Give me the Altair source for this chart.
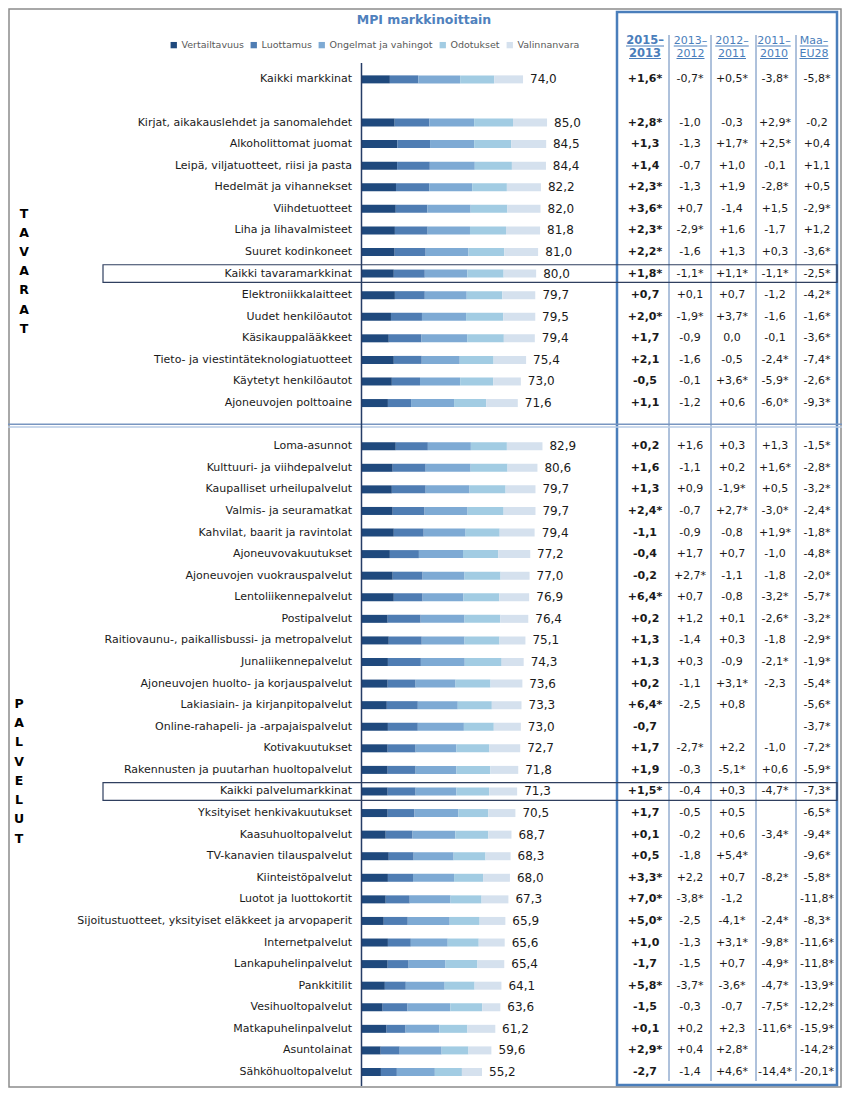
import altair as alt
import pandas as pd

# ---------------- data ----------------
components = ["Vertailtavuus", "Luottamus", "Ongelmat ja vahingot", "Odotukset", "Valinnanvara"]
colors = ["#1f497d", "#4f7db3", "#7eaad4", "#a2cce3", "#d5e1ee"]

top_label = ["Kaikki markkinat"]
goods = [
    "Kirjat, aikakauslehdet ja sanomalehdet", "Alkoholittomat juomat", "Leipä, viljatuotteet, riisi ja pasta",
    "Hedelmät ja vihannekset", "Viihdetuotteet", "Liha ja lihavalmisteet", "Suuret kodinkoneet",
    "Kaikki tavaramarkkinat", "Elektroniikkalaitteet", "Uudet henkilöautot", "Käsikauppalääkkeet",
    "Tieto- ja viestintäteknologiatuotteet", "Käytetyt henkilöautot", "Ajoneuvojen polttoaine",
]
services = [
    "Loma-asunnot", "Kulttuuri- ja viihdepalvelut", "Kaupalliset urheilupalvelut", "Valmis- ja seuramatkat",
    "Kahvilat, baarit ja ravintolat", "Ajoneuvovakuutukset", "Ajoneuvojen vuokrauspalvelut", "Lentoliikennepalvelut",
    "Postipalvelut", "Raitiovaunu-, paikallisbussi- ja metropalvelut", "Junaliikennepalvelut",
    "Ajoneuvojen huolto- ja korjauspalvelut", "Lakiasiain- ja kirjanpitopalvelut", "Online-rahapeli- ja -arpajaispalvelut",
    "Kotivakuutukset", "Rakennusten ja puutarhan huoltopalvelut", "Kaikki palvelumarkkinat",
    "Yksityiset henkivakuutukset", "Kaasuhuoltopalvelut", "TV-kanavien tilauspalvelut", "Kiinteistöpalvelut",
    "Luotot ja luottokortit", "Sijoitustuotteet, yksityiset eläkkeet ja arvopaperit", "Internetpalvelut",
    "Lankapuhelinpalvelut", "Pankkitilit", "Vesihuoltopalvelut", "Matkapuhelinpalvelut", "Asuntolainat",
    "Sähköhuoltopalvelut",
]
boxed = ["Kaikki tavaramarkkinat", "Kaikki palvelumarkkinat"]

totals = [74.0,
          85.0, 84.5, 84.4, 82.2, 82.0, 81.8, 81.0, 80.0, 79.7, 79.5, 79.4, 75.4, 73.0, 71.6,
          82.9, 80.6, 79.7, 79.7, 79.4, 77.2, 77.0, 76.9, 76.4, 75.1, 74.3, 73.6, 73.3, 73.0, 72.7,
          71.8, 71.3, 70.5, 68.7, 68.3, 68.0, 67.3, 65.9, 65.6, 65.4, 64.1, 63.6, 61.2, 59.6, 55.2]

vert = [13.0,
        15.2, 16.4, 16.3, 15.8, 15.7, 15.3, 15.2, 14.8, 15.3, 13.5, 12.5, 14.8, 13.9, 12.1,
        15.7, 14.3, 13.9, 14.3, 14.8, 13.0, 14.3, 14.8, 12.0, 12.5, 12.1, 12.0, 11.6, 12.1, 12.0,
        12.0, 12.0, 12.0, 11.1, 12.5, 12.1, 11.1, 10.2, 12.1, 12.0, 10.7, 9.7, 11.5, 8.8, 8.9]
luot = [13.0,
        15.9, 15.0, 15.0, 15.2, 14.5, 15.0, 14.2, 14.2, 13.7, 14.2, 15.0, 12.8, 12.9, 10.6,
        14.7, 15.1, 15.5, 14.6, 13.7, 13.3, 13.7, 13.2, 15.1, 15.1, 15.1, 12.8, 14.2, 13.7, 12.8,
        12.8, 12.8, 12.3, 12.3, 11.4, 11.5, 11.0, 11.0, 10.5, 9.6, 9.6, 11.4, 8.7, 8.7, 7.3]
onge = [19.2,
        20.5, 20.2, 20.6, 19.7, 19.8, 19.4, 19.6, 19.5, 19.2, 20.2, 20.9, 17.4, 18.4, 19.7,
        19.7, 20.6, 20.1, 19.7, 19.2, 20.2, 19.2, 18.7, 20.1, 19.6, 20.1, 18.3, 18.3, 21.1, 18.7,
        18.7, 18.7, 20.1, 19.6, 18.3, 18.8, 18.7, 19.2, 16.9, 16.9, 17.8, 19.6, 15.5, 19.2, 17.4]
odot = [15.6,
        17.8, 17.0, 17.0, 15.9, 16.8, 16.5, 16.4, 16.6, 16.3, 17.0, 16.8, 15.5, 15.1, 14.7,
        16.5, 16.9, 16.5, 16.5, 15.6, 16.1, 16.5, 16.4, 16.4, 16.0, 16.9, 16.0, 15.6, 13.7, 15.1,
        15.5, 15.0, 13.7, 15.1, 14.6, 13.3, 14.2, 13.7, 14.2, 14.6, 13.7, 14.6, 12.8, 12.3, 12.4]
vali = [13.2,
        15.6, 16.0, 15.6, 15.6, 15.2, 15.6, 15.5, 14.9, 15.1, 14.7, 14.2, 14.9, 12.7, 14.5,
        16.3, 13.7, 13.7, 14.6, 16.0, 14.7, 13.3, 13.7, 12.8, 11.9, 10.1, 14.6, 13.6, 12.4, 14.1,
        12.8, 12.8, 12.4, 10.6, 11.5, 12.3, 12.3, 11.8, 11.9, 12.3, 12.3, 8.3, 12.8, 10.5, 9.2]

headers1 = ["2015–", "2013–", "2012–", "2011–", "Maa–"]
headers2 = ["2013", "2012", "2011", "2010", "EU28"]

c1 = ["+1,6*",
      "+2,8*", "+1,3", "+1,4", "+2,3*", "+3,6*", "+2,3*", "+2,2*", "+1,8*", "+0,7", "+2,0*", "+1,7", "+2,1", "-0,5", "+1,1",
      "+0,2", "+1,6", "+1,3", "+2,4*", "-1,1", "-0,4", "-0,2", "+6,4*", "+0,2", "+1,3", "+1,3", "+0,2", "+6,4*", "-0,7",
      "+1,7", "+1,9", "+1,5*", "+1,7", "+0,1", "+0,5", "+3,3*", "+7,0*", "+5,0*", "+1,0", "-1,7", "+5,8*", "-1,5", "+0,1",
      "+2,9*", "-2,7"]
c2 = ["-0,7*",
      "-1,0", "-1,3", "-0,7", "-1,3", "+0,7", "-2,9*", "-1,6", "-1,1*", "+0,1", "-1,9*", "-0,9", "-1,6", "-0,1", "-1,2",
      "+1,6", "-1,1", "+0,9", "-0,7", "-0,9", "+1,7", "+2,7*", "+0,7", "+1,2", "-1,4", "+0,3", "-1,1", "-2,5", "",
      "-2,7*", "-0,3", "-0,4", "-0,5", "-0,2", "-1,8", "+2,2", "-3,8*", "-2,5", "-1,3", "-1,5", "-3,7*", "-0,3", "+0,2",
      "+0,4", "-1,4"]
c3 = ["+0,5*",
      "-0,3", "+1,7*", "+1,0", "+1,9", "-1,4", "+1,6", "+1,3", "+1,1*", "+0,7", "+3,7*", "0,0", "-0,5", "+3,6*", "+0,6",
      "+0,3", "+0,2", "-1,9*", "+2,7*", "-0,8", "+0,7", "-1,1", "-0,8", "+0,1", "+0,3", "-0,9", "+3,1*", "+0,8", "",
      "+2,2", "-5,1*", "+0,3", "+0,5", "+0,6", "+5,4*", "+0,7", "-1,2", "-4,1*", "+3,1*", "+0,7", "-3,6*", "-0,7", "+2,3",
      "+2,8*", "+4,6*"]
c4 = ["-3,8*",
      "+2,9*", "+2,5*", "-0,1", "-2,8*", "+1,5", "-1,7", "+0,3", "-1,1*", "-1,2", "-1,6", "-0,1", "-2,4*", "-5,9*", "-6,0*",
      "+1,3", "+1,6*", "+0,5", "-3,0*", "+1,9*", "-1,0", "-1,8", "-3,2*", "-2,6*", "-1,8", "-2,1*", "-2,3", "", "",
      "-1,0", "+0,6", "-4,7*", "", "-3,4*", "", "-8,2*", "", "-2,4*", "-9,8*", "-4,9*", "-4,7*", "-7,5*", "-11,6*",
      "", "-14,4*"]
c5 = ["-5,8*",
      "-0,2", "+0,4", "+1,1", "+0,5", "-2,9*", "+1,2", "-3,6*", "-2,5*", "-4,2*", "-1,6*", "-3,6*", "-7,4*", "-2,6*", "-9,3*",
      "-1,5*", "-2,8*", "-3,2*", "-2,4*", "-1,8*", "-4,8*", "-2,0*", "-5,7*", "-3,2*", "-2,9*", "-1,9*", "-5,4*", "-5,6*",
      "-3,7*", "-7,2*", "-5,9*", "-7,3*", "-6,5*", "-9,4*", "-9,6*", "-5,8*", "-11,8*", "-8,3*", "-11,6*", "-11,8*",
      "-13,9*", "-12,2*", "-15,9*", "-14,2*", "-20,1*"]

# ---------------- tables built from the arrays ----------------
labels = top_label + goods + services
slots = [0] + list(range(2, 2 + len(goods))) + list(range(3 + len(goods), 3 + len(goods) + len(services)))

rows = pd.DataFrame({
    "label": labels, "slot": slots, "total": totals,
    "total_txt": [f"{t:.1f}".replace(".", ",") for t in totals],
    "c1": c1, "c2": c2, "c3": c3, "c4": c4, "c5": c5,
})

recs = []
series = [vert, luot, onge, odot, vali]
for i in range(len(labels)):
    start = 0.0
    for ci, comp in enumerate(components):
        v = series[ci][i]
        recs.append({"slot": slots[i], "comp": comp, "ci": ci, "x0": start, "x1": start + v, "value": v})
        start += v
bars_df = pd.DataFrame(recs)

box_df = rows[rows["label"].isin(boxed)]
one = pd.DataFrame({"d": [0]})

# ---------------- scales / layout ----------------
W, H = 834, 1080
XS = alt.Scale(domain=[-161.93, 220.11], nice=False, zero=False)
YS = alt.Scale(domain=[-3.0762, 46.51], reverse=True, nice=False, zero=False)
FONT = "DejaVu Sans"
BLUE = "#4a7ebb"
NAVY = "#253c66"

col_x = [637, 682, 724, 767, 809]
head_x = [637, 682.5, 724, 766, 806]
u1_w = [38, 33.5, 33.5, 33.5, 28.5]
u2_w = [32, 28, 28, 28, 29]
sep_x = [661, 703, 748, 788]

layers = []

# outer frame
layers.append(alt.Chart(one).mark_rect(fillOpacity=0, stroke="#8c8c8c", strokeWidth=1.5).encode(
    x=alt.value(1), x2=alt.value(W - 1), y=alt.value(1), y2=alt.value(H - 1)))

# table box
layers.append(alt.Chart(one).mark_rect(fillOpacity=0, stroke=BLUE, strokeWidth=2.5).encode(
    x=alt.value(609), x2=alt.value(829), y=alt.value(4), y2=alt.value(1077)))

# column separators
for sx in sep_x:
    layers.append(alt.Chart(one).mark_rule(color="#5f84b8", strokeWidth=1).encode(
        x=alt.value(sx), y=alt.value(27), y2=alt.value(1073)))

# goods / services separator (double line)
layers.append(alt.Chart(one).mark_rule(color="#7895c0", strokeWidth=1.6).encode(
    x=alt.value(0), x2=alt.value(W), y=alt.value(416.3)))
layers.append(alt.Chart(one).mark_rule(color="#b8cbe4", strokeWidth=1.6).encode(
    x=alt.value(0), x2=alt.value(W), y=alt.value(419)))

# stacked bars
layers.append(alt.Chart(bars_df).mark_bar(size=8, orient="horizontal").encode(
    x=alt.X("x0:Q", scale=XS, axis=None),
    x2="x1:Q",
    y=alt.Y("slot:Q", scale=YS, axis=None),
    color=alt.Color("comp:N", scale=alt.Scale(domain=components, range=colors),
                    legend=alt.Legend(orient="none", legendX=161, legendY=32, direction="horizontal",
                                      title=None, symbolType="square", symbolSize=40, symbolStrokeWidth=0,
                                      labelFont=FONT, labelFontSize=9.5, labelColor="#595959",
                                      columnPadding=5, labelOffset=3)),
    order=alt.Order("ci:Q"),
))

# axis line
layers.append(alt.Chart(one).mark_rule(color=NAVY, strokeWidth=1.5).encode(
    x=alt.X("d:Q", scale=XS, axis=None), y=alt.value(55), y2=alt.value(1078)))

# boxes around the aggregate rows
layers.append(alt.Chart(box_df).transform_calculate(
    ya="datum.slot - 0.41", yb="datum.slot + 0.41"
).mark_rect(fillOpacity=0, stroke="#2f3f5f", strokeWidth=1.2).encode(
    x=alt.value(95), x2=alt.value(829),
    y=alt.Y("ya:Q", scale=YS, axis=None), y2="yb:Q"))

# category labels
layers.append(alt.Chart(rows).mark_text(align="right", baseline="middle", font=FONT, fontSize=11,
                                        color="#1a1a1a").encode(
    x=alt.value(344), y=alt.Y("slot:Q", scale=YS, axis=None), text="label:N"))

# total labels
layers.append(alt.Chart(rows).mark_text(align="left", baseline="middle", dx=7, font=FONT, fontSize=12,
                                        color="#1a1a1a").encode(
    x=alt.X("total:Q", scale=XS, axis=None), y=alt.Y("slot:Q", scale=YS, axis=None), text="total_txt:N"))

# table values
for k, col in enumerate(["c1", "c2", "c3", "c4", "c5"]):
    layers.append(alt.Chart(rows).mark_text(align="center", baseline="middle", font=FONT, fontSize=11,
                                            fontWeight="bold" if k == 0 else "normal",
                                            color="#1a1a1a").encode(
        x=alt.value(col_x[k]), y=alt.Y("slot:Q", scale=YS, axis=None), text=f"{col}:N"))

# table headers with underline
for k in range(5):
    bold = "bold" if k == 0 else "normal"
    fs = 11.5 if k == 0 else 11
    layers.append(alt.Chart(one).mark_text(align="center", baseline="alphabetic", font=FONT, fontSize=fs,
                                           fontWeight=bold, color=BLUE).encode(
        x=alt.value(head_x[k]), y=alt.value(36), text=alt.value(headers1[k])))
    layers.append(alt.Chart(one).mark_text(align="center", baseline="alphabetic", font=FONT, fontSize=fs,
                                           fontWeight=bold, color=BLUE).encode(
        x=alt.value(head_x[k]), y=alt.value(48.7), text=alt.value(headers2[k])))
    layers.append(alt.Chart(one).mark_rule(color=BLUE, strokeWidth=1).encode(
        x=alt.value(head_x[k] - u1_w[k] / 2), x2=alt.value(head_x[k] + u1_w[k] / 2), y=alt.value(38)))
    layers.append(alt.Chart(one).mark_rule(color=BLUE, strokeWidth=1).encode(
        x=alt.value(head_x[k] - u2_w[k] / 2), x2=alt.value(head_x[k] + u2_w[k] / 2), y=alt.value(50.5)))

# title
layers.append(alt.Chart(one).mark_text(align="center", baseline="middle", font=FONT, fontSize=12.5,
                                       fontWeight="bold", color="#4f81bd").encode(
    x=alt.value(416), y=alt.value(12), text=alt.value("MPI markkinoittain")))

# vertical group letters
layers.append(alt.Chart(one).mark_text(align="center", baseline="top", font=FONT, fontSize=12.5,
                                       fontWeight="bold", color="#000000", lineBreak="\n",
                                       lineHeight=19.2).encode(
    x=alt.value(16), y=alt.value(199.5), text=alt.value("\n".join("TAVARAT"))))
layers.append(alt.Chart(one).mark_text(align="center", baseline="top", font=FONT, fontSize=12.5,
                                       fontWeight="bold", color="#000000", lineBreak="\n",
                                       lineHeight=19.3).encode(
    x=alt.value(11), y=alt.value(689.7), text=alt.value("\n".join("PALVELUT"))))

chart = alt.layer(*layers).properties(
    width=W, height=H, padding=0, autosize=alt.AutoSizeParams(type="none"),
    background="white",
).configure_view(stroke=None)

chart.save("out.html", embed_options={"renderer": "svg", "actions": False})
